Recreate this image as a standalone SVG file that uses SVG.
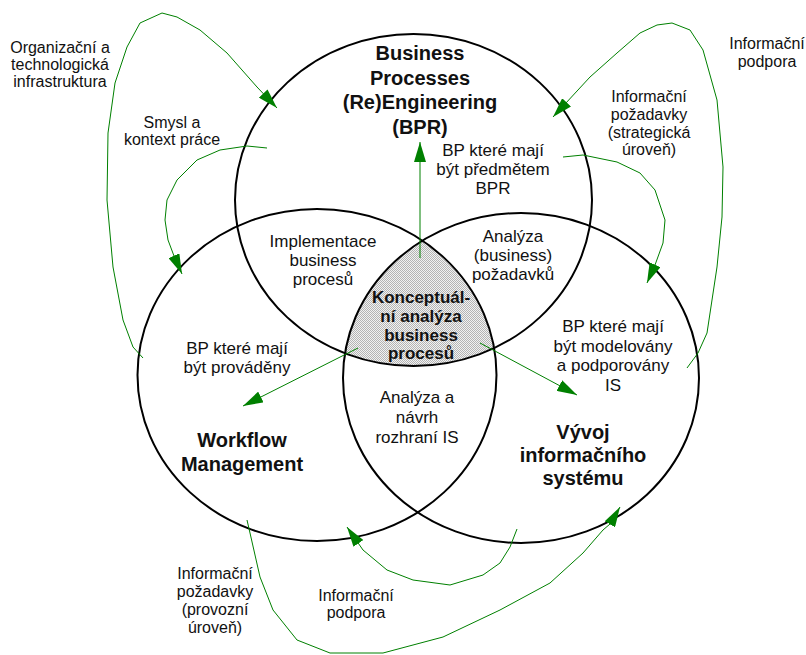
<svg xmlns="http://www.w3.org/2000/svg" width="806" height="655" viewBox="0 0 806 655">
  <style>
    .ring { fill: none; stroke: #000; stroke-width: 2; }
    .flow { fill: none; stroke: #008000; stroke-width: 1; stroke-linejoin: round; marker-end: url(#head); }
    text { font-family: "Liberation Sans", Arial, sans-serif; fill: #111; text-anchor: middle; }
    .t { font-size: 17px; }
    .o { font-size: 16px; }
    .b { font-size: 20px; font-weight: bold; }
    .c { font-size: 17px; font-weight: bold; }
  </style>
  <defs>
    <marker id="head" markerUnits="userSpaceOnUse" markerWidth="20" markerHeight="12" refX="20" refY="6" orient="auto">
      <path d="M0,0 L20,6 L0,12 z" fill="#008000"/>
    </marker>
    <pattern id="stipple" patternUnits="userSpaceOnUse" width="2" height="2">
      <rect width="2" height="2" fill="#f2f2f2"/>
      <rect width="1" height="1" fill="#b4b4b4"/>
      <rect x="1" y="1" width="1" height="1" fill="#b4b4b4"/>
    </pattern>
    <clipPath id="clipLeft"><ellipse cx="317" cy="375" rx="179.5" ry="166"/></clipPath>
    <clipPath id="clipRight"><ellipse cx="521" cy="378" rx="178" ry="165"/></clipPath>
  </defs>
  <rect width="806" height="655" fill="#fff"/>

  <!-- common core of the three areas -->
  <g id="core-fill" clip-path="url(#clipLeft)">
    <ellipse cx="413.5" cy="200" rx="178.5" ry="166" fill="url(#stipple)" clip-path="url(#clipRight)"/>
  </g>

  <g id="bpr">
    <ellipse class="ring" cx="413.5" cy="200" rx="178.5" ry="166"/>
    <text class="b" x="420" y="60">Business</text>
    <text class="b" x="420" y="84.5">Processes</text>
    <text class="b" x="420" y="109">(Re)Engineering</text>
    <text class="b" x="420" y="134">(BPR)</text>
    <text class="t" x="493" y="156">BP které mají</text>
    <text class="t" x="493" y="175">být předmětem</text>
    <text class="t" x="493" y="194">BPR</text>
  </g>

  <g id="workflow">
    <ellipse class="ring" cx="317" cy="375" rx="179.5" ry="166"/>
    <text class="t" x="237" y="354">BP které mají</text>
    <text class="t" x="237" y="373">být prováděny</text>
    <text class="b" x="242" y="447">Workflow</text>
    <text class="b" x="242" y="471">Management</text>
  </g>

  <g id="is-development">
    <ellipse class="ring" cx="521" cy="378" rx="178" ry="165"/>
    <text class="t" x="613" y="332">BP které mají</text>
    <text class="t" x="613" y="352">být modelovány</text>
    <text class="t" x="613" y="371">a podporovány</text>
    <text class="t" x="613" y="391">IS</text>
    <text class="b" x="583" y="439">Vývoj</text>
    <text class="b" x="583" y="462">informačního</text>
    <text class="b" x="583" y="485">systému</text>
  </g>

  <g id="overlap-bpr-workflow">
    <text class="t" x="323" y="247">Implementace</text>
    <text class="t" x="323" y="266">business</text>
    <text class="t" x="323" y="285">procesů</text>
  </g>

  <g id="overlap-bpr-is">
    <text class="t" x="513" y="242">Analýza</text>
    <text class="t" x="513" y="261">(business)</text>
    <text class="t" x="513" y="280">požadavků</text>
  </g>

  <g id="overlap-workflow-is">
    <text class="t" x="417" y="403">Analýza a</text>
    <text class="t" x="417" y="423">návrh</text>
    <text class="t" x="417" y="443">rozhraní IS</text>
  </g>

  <g id="core">
    <text class="c" x="421" y="303">Konceptuál-</text>
    <text class="c" x="421" y="322">ní analýza</text>
    <text class="c" x="421" y="341">business</text>
    <text class="c" x="421" y="359">procesů</text>
  </g>

  <g id="connectors">
    <!-- from the core outwards -->
    <path class="flow" d="M420,258 L420,142"/>
    <path class="flow" d="M358,348 L243,406"/>
    <path class="flow" d="M480,343 L577,395"/>
    <!-- organisational and technological infrastructure -->
    <path class="flow" d="M143,358 L133,347 L123,320 L113,267 L107,200 L108,133 L115,83 L127,47 L140,23 L162,13 L177,17 L200,30 L227,53 L257,87 L277,108"/>
    <!-- meaning and context of work -->
    <path class="flow" d="M267,148 L247,146 L220,150 L197,160 L177,180 L167,200 L165,220 L168,240 L174,256 L182,274"/>
    <!-- information support, strategic -->
    <path class="flow" d="M687,368 L698,353 L707,333 L717,267 L722,217 L723,167 L717,100 L703,50 L690,30 L672,23 L657,25 L640,33 L617,53 L590,77 L553,117"/>
    <!-- information requirements, strategic level -->
    <path class="flow" d="M563,157 L583,155 L617,162 L640,173 L655,190 L665,220 L663,243 L655,265 L647,283"/>
    <!-- information requirements, operational level -->
    <path class="flow" d="M247,520 L250,533 L260,577 L273,610 L297,640 L330,653 L383,653 L443,637 L500,610 L550,583 L583,553 L603,530 L610,524 L620,507"/>
    <!-- information support, operational -->
    <path class="flow" d="M517,529 L510,547 L500,563 L483,575 L450,585 L413,580 L387,570 L363,550 L347,527"/>
  </g>

  <g id="labels">
    <text class="o" x="60" y="53">Organizační a</text>
    <text class="o" x="60" y="70">technologická</text>
    <text class="o" x="60" y="87">infrastruktura</text>
    <text class="o" x="172" y="128">Smysl a</text>
    <text class="o" x="172" y="145">kontext práce</text>
    <text class="o" x="767" y="49">Informační</text>
    <text class="o" x="767" y="67">podpora</text>
    <text class="o" x="649" y="102">Informační</text>
    <text class="o" x="649" y="120">požadavky</text>
    <text class="o" x="649" y="138">(strategická</text>
    <text class="o" x="649" y="155">úroveň)</text>
    <text class="o" x="215" y="579">Informační</text>
    <text class="o" x="215" y="597">požadavky</text>
    <text class="o" x="215" y="615">(provozní</text>
    <text class="o" x="215" y="633">úroveň)</text>
    <text class="o" x="356" y="601">Informační</text>
    <text class="o" x="356" y="618">podpora</text>
  </g>
</svg>
